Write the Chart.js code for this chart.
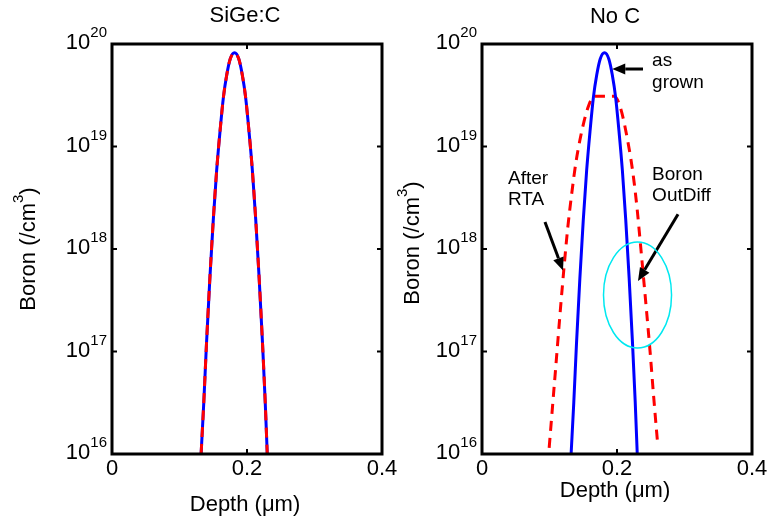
<!DOCTYPE html>
<html>
<head>
<meta charset="utf-8">
<script src="https://cdn.jsdelivr.net/npm/chart.js@4"></script>
<style>
  body { margin: 0; background: #fff; }
  #wrap { position: relative; width: 770px; height: 529px; }
  #wrap canvas { position: absolute; left: 0; top: 0; }
</style>
</head>
<body>
<div id="wrap">
  <canvas id="left" width="770" height="529"></canvas>
  <canvas id="right" width="770" height="529"></canvas>
</div>
<script>
// depth in um, boron in /cm3
const xTicks = [0, 0.2, 0.4];
const yTickExps = [16, 17, 18, 19, 20];

const grownDepth = [0.132, 0.136, 0.140, 0.145, 0.150, 0.155, 0.160, 0.165, 0.170, 0.175, 0.1815,
                    0.188, 0.193, 0.198, 0.203, 0.208, 0.213, 0.218, 0.223, 0.227, 0.230];
const grownBoron = [1.0e16, 3.2e16, 1.2e17, 5.2e17, 1.9e18, 5.8e18, 1.4e19, 3.0e19, 5.0e19, 7.1e19, 8.2e19,
                    7.1e19, 5.0e19, 3.0e19, 1.4e19, 5.8e18, 1.9e18, 5.2e17, 1.2e17, 3.2e16, 1.0e16];

// no carbon, after RTA
const rtaDepth = [0.0995, 0.105, 0.1105, 0.116, 0.1215, 0.127, 0.133, 0.139, 0.145, 0.151, 0.157, 0.162, 0.166,
                  0.1955, 0.200, 0.205, 0.210, 0.2155, 0.2205, 0.2255, 0.230, 0.234, 0.2385, 0.2435, 0.249, 0.2545, 0.2605];
const rtaBoron = [1.15e16, 3.2e16, 8.9e16, 2.5e17, 6.6e17, 1.6e18, 3.5e18, 6.9e18, 1.15e19, 1.74e19, 2.4e19, 2.9e19, 3.1e19,
                  3.1e19, 2.9e19, 2.4e19, 1.78e19, 1.17e19, 7.6e18, 4.4e18, 2.4e18, 1.26e18, 6.0e17, 2.6e17, 1.0e17, 3.5e16, 1.2e16];

const FONT = '"Liberation Sans", Arial, Helvetica, sans-serif';
const BIG = '22px ' + FONT;
const SUP = '15px ' + FONT;

function pts(xs, ys) {
    return xs.map((x, i) => ({x: x, y: ys[i]}));
}

function drawPow(ctx, base, exp, xRight, y) {
    ctx.font = BIG;
    const wb = ctx.measureText(base).width;
    ctx.font = SUP;
    const we = ctx.measureText(exp).width;
    ctx.textBaseline = 'middle';
    ctx.textAlign = 'left';
    ctx.font = BIG;
    ctx.fillText(base, xRight - we - wb, y);
    ctx.font = SUP;
    ctx.fillText(exp, xRight - we, y - 10);
}

function arrow(ctx, x1, y1, x2, y2) {
    const a = Math.atan2(y2 - y1, x2 - x1);
    const len = 13, hw = 5.5;
    const bx = x2 - len * Math.cos(a), by = y2 - len * Math.sin(a);
    ctx.beginPath();
    ctx.moveTo(x1, y1);
    ctx.lineTo(bx, by);
    ctx.lineWidth = 3;
    ctx.stroke();
    ctx.beginPath();
    ctx.moveTo(x2, y2);
    ctx.lineTo(bx + hw * Math.sin(a), by - hw * Math.cos(a));
    ctx.lineTo(bx - hw * Math.sin(a), by + hw * Math.cos(a));
    ctx.closePath();
    ctx.fill();
}

// frame, ticks and labels in the MATLAB style
const framePlugin = {
    id: 'frame',
    afterDraw(chart, args, opts) {
        const ctx = chart.ctx;
        const area = chart.chartArea;
        const xs = chart.scales.x, ys = chart.scales.y;
        ctx.save();
        ctx.fillStyle = '#000';
        ctx.strokeStyle = '#000';

        ctx.lineWidth = 2;
        xTicks.forEach(v => {
            const px = xs.getPixelForValue(v);
            ctx.beginPath();
            ctx.moveTo(px, area.bottom); ctx.lineTo(px, area.bottom - 5);
            ctx.moveTo(px, area.top); ctx.lineTo(px, area.top + 5);
            ctx.stroke();
        });
        yTickExps.forEach(e => {
            const py = ys.getPixelForValue(Math.pow(10, e));
            ctx.beginPath();
            ctx.moveTo(area.left, py); ctx.lineTo(area.left + 5, py);
            ctx.moveTo(area.right, py); ctx.lineTo(area.right - 5, py);
            ctx.stroke();
        });
        ctx.lineWidth = 3;
        ctx.strokeRect(area.left, area.top, area.right - area.left, area.bottom - area.top);

        // tick labels
        xTicks.forEach(v => {
            ctx.font = BIG;
            ctx.textAlign = 'center';
            ctx.textBaseline = 'middle';
            ctx.fillText(String(v), xs.getPixelForValue(v), area.bottom + 15);
        });
        yTickExps.forEach(e => {
            drawPow(ctx, '10', String(e), area.left - 5, ys.getPixelForValue(Math.pow(10, e)) - 1);
        });

        // title and axis titles
        const cx = (area.left + area.right) / 2;
        ctx.font = BIG;
        ctx.textAlign = 'center';
        ctx.textBaseline = 'middle';
        ctx.fillText(opts.title, cx - 2, opts.titleY);
        ctx.fillText('Depth (\u03bcm)', cx - 2, opts.xTitleY);

        ctx.save();
        ctx.translate(opts.yTitleX, opts.yTitleCY);
        ctx.rotate(-Math.PI / 2);
        ctx.font = BIG;
        const w1 = ctx.measureText('Boron (/cm').width;
        const w3 = ctx.measureText(')').width;
        ctx.font = SUP;
        const w2 = ctx.measureText('3').width;
        let x0 = -(w1 + w2 + w3) / 2;
        ctx.textAlign = 'left';
        ctx.font = BIG;
        ctx.fillText('Boron (/cm', x0, 0);
        ctx.font = SUP;
        ctx.fillText('3', x0 + w1, -10);
        ctx.font = BIG;
        ctx.fillText(')', x0 + w1 + w2, 0);
        ctx.restore();

        // annotations, placed in data coordinates
        if (opts.notes) {
            const X = v => xs.getPixelForValue(v);
            const Y = e => ys.getPixelForValue(Math.pow(10, e));
            ctx.font = '19px ' + FONT;
            ctx.textAlign = 'left';
            ctx.textBaseline = 'middle';
            opts.notes.texts.forEach(t => ctx.fillText(t[0], X(t[1]), Y(t[2])));
            opts.notes.arrows.forEach(a => arrow(ctx, X(a[0]), Y(a[1]), X(a[2]), Y(a[3])));
            const el = opts.notes.ellipse;
            const ex = X(el.x), ey = Y(el.e);
            ctx.beginPath();
            ctx.ellipse(ex, ey, X(el.x + el.rx) - ex, Y(el.e) - Y(el.e + el.re), 0, 0, Math.PI * 2);
            ctx.strokeStyle = '#00e8f0';
            ctx.lineWidth = 1.5;
            ctx.stroke();
        }
        ctx.restore();
    }
};

function makeChart(id, datasets, padding, frameOpts) {
    return new Chart(document.getElementById(id), {
        type: 'line',
        data: {datasets: datasets},
        options: {
            responsive: false,
            animation: false,
            layout: {padding: padding},
            elements: {point: {radius: 0}},
            scales: {
                x: {type: 'linear', min: 0, max: 0.4, display: false},
                y: {type: 'logarithmic', min: 1e16, max: 1e20, display: false}
            },
            plugins: {
                legend: {display: false},
                tooltip: {enabled: false},
                frame: frameOpts
            }
        },
        plugins: [framePlugin]
    });
}

// lower order is drawn on top
const blueLine = (data, order) => ({data: data, order: order, borderColor: '#0000ff', borderWidth: 3, cubicInterpolationMode: 'monotone', fill: false});
const redDash = (data, order) => ({data: data, order: order, borderColor: '#ff0000', borderWidth: 3, borderDash: [10, 7], cubicInterpolationMode: 'monotone', fill: false});

makeChart('left',
    [blueLine(pts(grownDepth, grownBoron), 2), redDash(pts(grownDepth, grownBoron), 1)],
    {left: 112, right: 388, top: 44, bottom: 75},
    {title: 'SiGe:C', titleY: 16, xTitleY: 505, yTitleX: 29, yTitleCY: 249});

makeChart('right',
    [blueLine(pts(grownDepth, grownBoron), 1), redDash(pts(rtaDepth, rtaBoron), 2)],
    {left: 482, right: 18, top: 44, bottom: 75},
    {title: 'No C', titleY: 17, xTitleY: 491, yTitleX: 413, yTitleCY: 243,
     notes: {
         texts: [['as', 0.252, 19.84], ['grown', 0.252, 19.62],
                 ['After', 0.0385, 18.69], ['RTA', 0.0385, 18.48],
                 ['Boron', 0.252, 18.72], ['OutDiff', 0.252, 18.52]],
         arrows: [[0.2385, 19.756, 0.193, 19.756],
                  [0.0933, 18.263, 0.1200, 17.79],
                  [0.2904, 18.34, 0.2311, 17.688]],
         ellipse: {x: 0.2304, e: 17.551, rx: 0.0504, re: 0.517}
     }});
</script>
</body>
</html>
